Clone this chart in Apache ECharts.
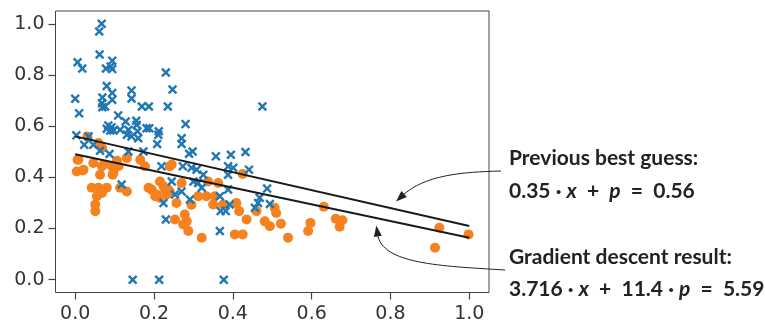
<!DOCTYPE html>
<html><head><meta charset="utf-8">
<script src="https://cdn.jsdelivr.net/npm/echarts@6/dist/echarts.min.js"></script>
<style>html,body{margin:0;padding:0;background:#fff}#c{width:765px;height:326px}</style>
</head><body><div id="c"></div>
<script>
const xTicks = [0, 0.2, 0.4, 0.6, 0.8, 1.0];
const yTicks = [0, 0.2, 0.4, 0.6, 0.8, 1.0];

const bluePoints = [
[0.067,1.00],[0.061,0.97],[0.062,0.88],[0.006,0.85],[0.018,0.825],[0.094,0.856],[0.078,0.825],[0.09,0.833],[0.094,0.823],[0.23,0.81],
[0.247,0.743],[0.08,0.757],[0.094,0.73],[0.143,0.739],[0.143,0.708],[0.069,0.712],[0.094,0.703],[0.0,0.707],[0.068,0.69],[0.076,0.677],
[0.069,0.674],[0.169,0.677],[0.187,0.677],[0.235,0.677],[0.01,0.65],[0.109,0.642],[0.128,0.618],[0.155,0.621],[0.156,0.605],[0.28,0.608],
[0.084,0.603],[0.092,0.596],[0.181,0.592],[0.188,0.592],[0.212,0.58],[0.089,0.583],[0.135,0.586],[0.158,0.58],[0.114,0.586],[0.08,0.59],
[0.097,0.583],[0.003,0.564],[0.034,0.56],[0.023,0.527],[0.046,0.527],[0.063,0.504],[0.087,0.491],[0.131,0.566],[0.143,0.56],[0.16,0.553],
[0.211,0.566],[0.208,0.53],[0.173,0.501],[0.135,0.501],[0.27,0.553],[0.27,0.53],[0.289,0.492],[0.298,0.501],[0.357,0.482],[0.395,0.488],
[0.432,0.499],[0.219,0.443],[0.273,0.443],[0.295,0.437],[0.308,0.43],[0.325,0.41],[0.388,0.443],[0.401,0.437],[0.388,0.41],[0.441,0.43],
[0.245,0.384],[0.118,0.372],[0.253,0.333],[0.27,0.345],[0.224,0.30],[0.23,0.235],[0.3,0.384],[0.312,0.378],[0.321,0.359],[0.291,0.313],
[0.388,0.352],[0.367,0.326],[0.392,0.294],[0.369,0.268],[0.382,0.268],[0.487,0.356],[0.468,0.32],[0.464,0.30],[0.456,0.281],[0.494,0.296],
[0.367,0.19],[0.475,0.677],[0.146,0.0],[0.213,0.0],[0.377,0.0]
];

const orangePoints = [
[0.031,0.56],[0.059,0.534],[0.068,0.515],[0.008,0.469],[0.004,0.423],[0.021,0.43],[0.046,0.456],[0.068,0.443],[0.063,0.41],[0.093,0.443],
[0.097,0.417],[0.106,0.465],[0.131,0.475],[0.165,0.469],[0.177,0.443],[0.042,0.359],[0.059,0.359],[0.08,0.359],[0.055,0.326],[0.051,0.294],
[0.051,0.268],[0.068,0.339],[0.114,0.359],[0.131,0.345],[0.186,0.359],[0.194,0.352],[0.215,0.384],[0.224,0.365],[0.24,0.443],[0.236,0.352],
[0.207,0.333],[0.215,0.32],[0.232,0.333],[0.257,0.30],[0.253,0.235],[0.278,0.255],[0.274,0.216],[0.287,0.19],[0.283,0.228],[0.27,0.378],
[0.295,0.293],[0.312,0.326],[0.321,0.164],[0.333,0.326],[0.337,0.384],[0.354,0.326],[0.363,0.378],[0.35,0.294],[0.375,0.294],[0.405,0.177],
[0.425,0.177],[0.409,0.30],[0.416,0.268],[0.435,0.235],[0.425,0.413],[0.46,0.268],[0.481,0.228],[0.494,0.209],[0.506,0.281],[0.51,0.261],
[0.522,0.219],[0.54,0.164],[0.591,0.19],[0.597,0.222],[0.631,0.285],[0.661,0.238],[0.678,0.232],[0.671,0.207],[0.913,0.125],[0.924,0.203],
[0.998,0.177],[0.203,0.326],[0.228,0.352],[0.24,0.345],[0.245,0.45],[0.095,0.41],[0.11,0.443],[0.072,0.45],[0.019,0.427],[0.006,0.469]
];

const lineX = [0, 1];
const prevGuessY = [0.56, 0.21];
const gradDescY = [0.49, 0.164];

const labelPrev = ['Previous best guess:', '{n|0.35 · }{i|x}{n|  +  }{i|p}{n|  =  0.56}'];
const labelGrad = ['Gradient descent result:', '{n|3.716 · }{i|x}{n|  +  11.4 · }{i|p}{n|  =  5.59}'];
// arrow tips (data coords)
const tipPrev = [0.814, 0.306];
const tipGrad = [0.764, 0.212];

const chart = echarts.init(document.getElementById('c'), null, {renderer: 'canvas'});
const X_PATH = 'path://M0,1.8L1.8,0L5,3.2L8.2,0L10,1.8L6.8,5L10,8.2L8.2,10L5,6.8L1.8,10L0,8.2L3.2,5Z';
const axisCol = '#444';
const fmt = v => v.toFixed(1);
const tickFont = {color: '#333', fontSize: 19, fontFamily: 'DejaVu Sans'};

chart.setOption({
  animation: false,
  grid: {left: 55.5, right: 276, top: 11, bottom: 33.5, show: true, borderColor: axisCol, borderWidth: 1, backgroundColor: 'transparent'},
  xAxis: {
    type: 'value', min: -0.05, max: 1.05,
    axisLine: {show: false, onZero: false},
    axisTick: {show: true, inside: false, length: 7, lineStyle: {color: axisCol, width: 1.2}, customValues: xTicks},
    axisLabel: Object.assign({show: true, customValues: xTicks, formatter: fmt, margin: 12}, tickFont),
    splitLine: {show: false}
  },
  yAxis: {
    type: 'value', min: -0.05, max: 1.05,
    axisLine: {show: false, onZero: false},
    axisTick: {show: true, inside: false, length: 7, lineStyle: {color: axisCol, width: 1.2}, customValues: yTicks},
    axisLabel: Object.assign({show: true, customValues: yTicks, formatter: fmt, margin: 11}, tickFont),
    splitLine: {show: false}
  },
  series: [
    {type: 'scatter', data: orangePoints, symbol: 'circle', symbolSize: 10, itemStyle: {color: '#f5821f', opacity: 1}, z: 2},
    {type: 'scatter', data: bluePoints, symbol: X_PATH, symbolSize: 9.5, itemStyle: {color: '#1f77b4', opacity: 1}, z: 3},
    {type: 'line', data: lineX.map((x, i) => [x, prevGuessY[i]]), symbol: 'none', lineStyle: {color: '#1a1a1a', width: 2}, z: 4},
    {type: 'line', data: lineX.map((x, i) => [x, gradDescY[i]]), symbol: 'none', lineStyle: {color: '#1a1a1a', width: 2}, z: 4}
  ]
});

function arrow(p0, c1, c2, tip) {
  const dx = tip[0] - c2[0], dy = tip[1] - c2[1];
  const L = Math.hypot(dx, dy), ux = dx / L, uy = dy / L;
  const hl = 11, hw = 4;
  const bx = tip[0] - ux * hl, by = tip[1] - uy * hl;
  return [
    {type: 'bezierCurve', shape: {x1: p0[0], y1: p0[1], cpx1: c1[0], cpy1: c1[1], cpx2: c2[0], cpy2: c2[1], x2: bx + ux * 2, y2: by + uy * 2},
      style: {stroke: '#222', lineWidth: 1, fill: null}, z: 10},
    {type: 'polygon', shape: {points: [[tip[0], tip[1]], [bx - uy * hw, by + ux * hw], [bx + uy * hw, by - ux * hw]]},
      style: {fill: '#222'}, z: 10}
  ];
}

const t1 = chart.convertToPixel({gridIndex: 0}, tipPrev);
const t2 = chart.convertToPixel({gridIndex: 0}, tipGrad);
const font = 'bold 21px Lato';
const rich = {n: {font: 'bold 21px Lato', fill: '#222'}, i: {font: 'italic bold 21px Lato', fill: '#222'}};
const tx = 509;
chart.setOption({
  graphic: [
    ...arrow([501, 171], [462, 172], [425, 175], t1),
    ...arrow([505, 270], [440, 266], [382, 264], t2),
    {type: 'text', x: tx, y: 158, style: {text: labelPrev[0], font: font, fill: '#222', verticalAlign: 'middle'}, z: 10},
    {type: 'text', x: tx, y: 191, style: {text: labelPrev[1], font: font, fill: '#222', verticalAlign: 'middle', rich: rich}, z: 10},
    {type: 'text', x: tx, y: 257, style: {text: labelGrad[0], font: font, fill: '#222', verticalAlign: 'middle'}, z: 10},
    {type: 'text', x: tx, y: 289, style: {text: labelGrad[1], font: font, fill: '#222', verticalAlign: 'middle', rich: rich}, z: 10}
  ]
});
</script></body></html>
